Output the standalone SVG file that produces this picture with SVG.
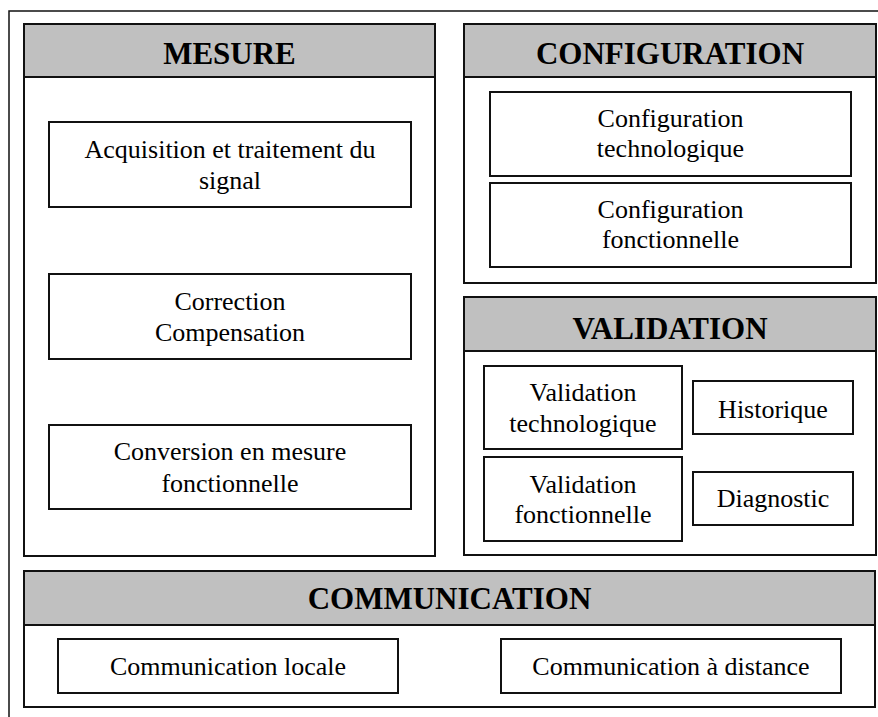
<svg xmlns="http://www.w3.org/2000/svg" width="878" height="717" viewBox="0 0 878 717">
<style>
.frame{fill:none;stroke:#111;stroke-width:1.5}
.panel{fill:#fff;stroke:#111;stroke-width:2}
.head{fill:#c0c0c0;stroke:#111;stroke-width:2}
.box{fill:#fff;stroke:#111;stroke-width:2}
.title{font-family:"Liberation Serif","Times New Roman",serif;font-weight:bold;font-size:31px;text-anchor:middle;fill:#000}
.lbl{font-family:"Liberation Serif","Times New Roman",serif;font-size:26px;text-anchor:middle;fill:#000}
</style>
<rect width="878" height="717" fill="#fff"/>
<rect class="frame" x="9" y="11" width="885" height="720"/>
<g id="mesure">
<rect class="panel" x="24" y="24" width="411" height="532"/>
<rect class="head" x="24" y="24" width="411" height="53"/>
<text class="title" x="229.5" y="64">MESURE</text>
</g>
<g id="acquisition">
<rect class="box" x="49" y="122" width="362" height="85"/>
<text class="lbl" x="230" y="158">Acquisition et traitement du</text>
<text class="lbl" x="230" y="189">signal</text>
</g>
<g id="correction">
<rect class="box" x="49" y="274" width="362" height="85"/>
<text class="lbl" x="230" y="310">Correction</text>
<text class="lbl" x="230" y="341">Compensation</text>
</g>
<g id="conversion">
<rect class="box" x="49" y="425" width="362" height="84"/>
<text class="lbl" x="230" y="460">Conversion en mesure</text>
<text class="lbl" x="230" y="492">fonctionnelle</text>
</g>
<g id="configuration">
<rect class="panel" x="464" y="24" width="412" height="259"/>
<rect class="head" x="464" y="24" width="412" height="53"/>
<text class="title" x="670" y="64">CONFIGURATION</text>
</g>
<g id="config-techno">
<rect class="box" x="490" y="92" width="361" height="84"/>
<text class="lbl" x="670.5" y="127">Configuration</text>
<text class="lbl" x="670.5" y="157">technologique</text>
</g>
<g id="config-fonc">
<rect class="box" x="490" y="183" width="361" height="84"/>
<text class="lbl" x="670.5" y="218">Configuration</text>
<text class="lbl" x="670.5" y="248">fonctionnelle</text>
</g>
<g id="validation">
<rect class="panel" x="464" y="297" width="412" height="258"/>
<rect class="head" x="464" y="297" width="412" height="54"/>
<text class="title" x="670" y="339">VALIDATION</text>
</g>
<g id="valid-techno">
<rect class="box" x="484" y="366" width="198" height="83"/>
<text class="lbl" x="583" y="401">Validation</text>
<text class="lbl" x="583" y="432">technologique</text>
</g>
<g id="valid-fonc">
<rect class="box" x="484" y="457" width="198" height="84"/>
<text class="lbl" x="583" y="493">Validation</text>
<text class="lbl" x="583" y="523">fonctionnelle</text>
</g>
<g id="historique">
<rect class="box" x="693" y="381" width="160" height="53"/>
<text class="lbl" x="773" y="418">Historique</text>
</g>
<g id="diagnostic">
<rect class="box" x="693" y="472" width="160" height="53"/>
<text class="lbl" x="773" y="507">Diagnostic</text>
</g>
<g id="communication">
<rect class="panel" x="24" y="571" width="851" height="136"/>
<rect class="head" x="24" y="571" width="851" height="54"/>
<text class="title" x="449.5" y="609">COMMUNICATION</text>
</g>
<g id="comm-locale">
<rect class="box" x="58" y="639" width="340" height="54"/>
<text class="lbl" x="228" y="675">Communication locale</text>
</g>
<g id="comm-distance">
<rect class="box" x="501" y="639" width="340" height="54"/>
<text class="lbl" x="671" y="675">Communication à distance</text>
</g>
<g id="connectors"></g>
</svg>
